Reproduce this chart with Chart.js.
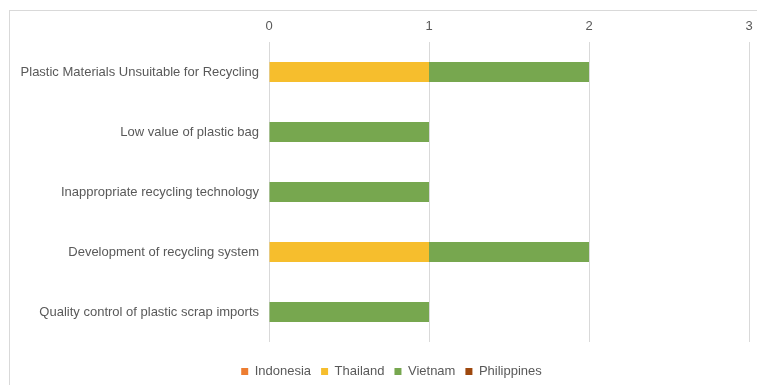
<!DOCTYPE html>
<html>
<head>
<meta charset="utf-8">
<script src="https://cdn.jsdelivr.net/npm/chart.js@4"></script>
<style>
  html, body { margin: 0; padding: 0; background: #fff; }
  #page { position: relative; width: 757px; height: 385px; overflow: hidden; }
  #frame { position: absolute; left: 9px; top: 10px; width: 800px; height: 420px; border: 1px solid #d9d9d9; }
  #chart { position: absolute; left: 0; top: 0; }
</style>
</head>
<body>
<div id="page">
  <div id="frame"></div>
  <canvas id="chart" width="757" height="385"></canvas>
</div>
<script>
const categories = [
  'Plastic Materials Unsuitable for Recycling',
  'Low value of plastic bag',
  'Inappropriate recycling technology',
  'Development of recycling system',
  'Quality control of plastic scrap imports'
];
const indonesia = [0, 0, 0, 0, 0];
const thailand = [1, 0, 0, 1, 0];
const vietnam = [1, 1, 1, 1, 1];
const philippines = [0, 0, 0, 0, 0];
const xTicks = [0, 1, 2, 3];

const textColor = '#595959';
Chart.defaults.font.family = '"Liberation Sans", Arial, sans-serif';
Chart.defaults.font.size = 13;
Chart.defaults.color = textColor;

// nudge the legend to where Excel put it (legend clips to its own box, so move the whole box)
const legendShift = {
  id: 'legendShift',
  afterLayout(chart) {
    const lg = chart.legend;
    if (!lg) return;
    lg.top += 13;
    lg.bottom += 13;
    lg.left += 10;
    lg.right += 10;
  }
};

new Chart(document.getElementById('chart'), {
  type: 'bar',
  data: {
    labels: categories,
    datasets: [
      { label: 'Indonesia', data: indonesia, backgroundColor: '#ED7D31' },
      { label: 'Thailand', data: thailand, backgroundColor: '#F6BE2D' },
      { label: 'Vietnam', data: vietnam, backgroundColor: '#77A74F' },
      { label: 'Philippines', data: philippines, backgroundColor: '#9E480E' }
    ]
  },
  options: {
    indexAxis: 'y',
    responsive: false,
    animation: false,
    layout: {
      padding: { left: 14, right: 8, top: 0, bottom: 10 }
    },
    datasets: {
      bar: { categoryPercentage: 0.667, barPercentage: 0.5, borderWidth: 0 }
    },
    plugins: {
      legend: {
        position: 'bottom',
        labels: {
          boxWidth: 7,
          boxHeight: 7,
          padding: 10,
          color: textColor,
          font: { size: 13 }
        }
      },
      tooltip: { enabled: false }
    },
    scales: {
      x: {
        position: 'top',
        stacked: true,
        min: 0,
        max: 3,
        afterBuildTicks: function(scale) {
          scale.ticks = xTicks.map(v => ({ value: v }));
        },
        afterFit: function(scale) {
          scale.height = 42;
          scale.paddingLeft = 0;
          scale.paddingRight = 0;
        },
        ticks: { padding: 8, color: textColor },
        grid: { color: '#d9d9d9', drawTicks: false },
        border: { display: false }
      },
      y: {
        stacked: true,
        afterFit: function(scale) {
          scale.width = 255;
        },
        ticks: { padding: 10, color: textColor },
        grid: { display: false, drawTicks: false },
        border: { display: false }
      }
    }
  },
  plugins: [legendShift]
});
</script>
</body>
</html>
